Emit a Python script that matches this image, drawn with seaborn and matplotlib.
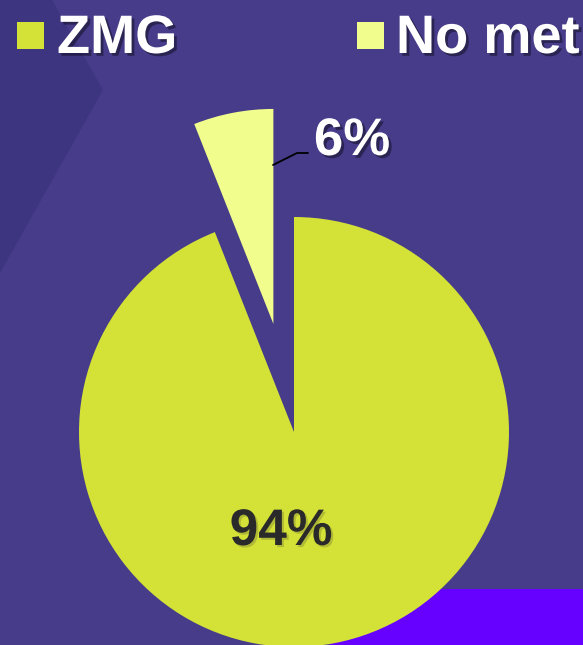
import matplotlib
matplotlib.use("Agg")
import matplotlib.pyplot as plt
import matplotlib.patheffects as pe
from matplotlib.patches import Polygon, Rectangle
import seaborn as sns

categories = ["ZMG", "No met"]
values = [94, 6]
colors = ["#D4E237", "#F1FD8C"]
labels_pct = ["94%", "6%"]

sns.set_style("white")
plt.rcParams['font.family'] = ['Liberation Sans', 'DejaVu Sans']

W, H = 583, 645
fig = plt.figure(figsize=(W / 100, H / 100), dpi=100)
fig.patch.set_facecolor("#463C8A")
ax = fig.add_axes([0, 0, 1, 1])
ax.set_facecolor("#463C8A")

def Y(y):
    return H - y

# background decorations
ax.add_patch(Polygon([(0, Y(0)), (52, Y(0)), (103, Y(90)), (0, Y(273))],
                     closed=True, facecolor="#3E3581", edgecolor="none", zorder=0))
ax.add_patch(Rectangle((330, Y(645)), 260, 56, facecolor="#6600FF",
                       edgecolor="none", zorder=0))

cx, cy, r = 294, Y(432), 215
wedges, _ = ax.pie(values, colors=colors, startangle=90, counterclock=False,
                   explode=[0, 110], center=(cx, cy), radius=r,
                   wedgeprops=dict(linewidth=0, zorder=2), frame=True)
ax.set_xlim(0, W)
ax.set_ylim(0, H)
ax.set_aspect("equal")
ax.axis("off")

shadow = [pe.SimplePatchShadow(offset=(2, -2), shadow_rgbFace="black", alpha=0.4), pe.Normal()]
shadow_dark = [pe.SimplePatchShadow(offset=(1.5, -1.5), shadow_rgbFace="#707030", alpha=0.35), pe.Normal()]

# percentage labels
ax.text(281, Y(545), labels_pct[0], fontsize=37, fontweight="bold", color="#2A2A2A",
        ha="center", va="baseline", zorder=5, path_effects=shadow_dark)
ax.text(352, Y(155), labels_pct[1], fontsize=38, fontweight="bold", color="white",
        ha="center", va="baseline", zorder=5, path_effects=shadow)
ax.plot([273, 297, 308], [Y(165), Y(153), Y(153)], color="black", lw=1.3, zorder=4)

# legend
ax.add_patch(Rectangle((17, Y(49)), 27, 27, facecolor=colors[0], edgecolor="none", zorder=3))
ax.text(57, Y(53), categories[0], fontsize=39, fontweight="bold", color="white",
        ha="left", va="baseline", zorder=5, path_effects=shadow)
ax.add_patch(Rectangle((357, Y(49)), 27, 27, facecolor=colors[1], edgecolor="none", zorder=3))
ax.text(396, Y(53), categories[1], fontsize=39, fontweight="bold", color="white",
        ha="left", va="baseline", zorder=5, path_effects=shadow)

fig.savefig("out.png", dpi=100, facecolor=fig.get_facecolor())
